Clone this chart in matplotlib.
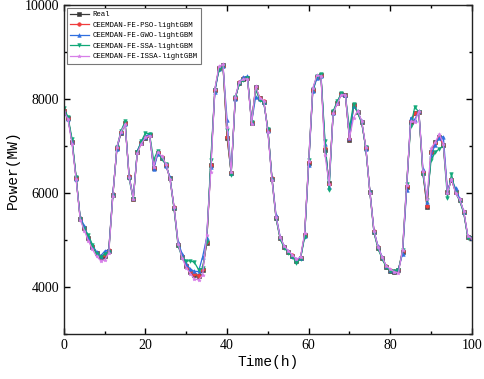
import matplotlib
matplotlib.use("Agg")
import matplotlib.pyplot as plt
from matplotlib.ticker import MultipleLocator

hours = list(range(101))

real = [7750,7600,7080,6320,5450,5250,5040,4850,4720,4640,
        4660,4770,5960,6960,7280,7490,6340,5870,6870,7060,
        7170,7230,6530,6850,6750,6600,6320,5680,4900,4640,
        4450,4320,4260,4230,4360,4940,6600,8190,8660,8720,
        7170,6430,8020,8340,8430,8450,7490,8250,8020,7940,
        7340,6300,5470,5040,4850,4740,4660,4560,4620,5100,
        6640,8190,8470,8510,6920,6210,7720,7920,8100,8080,
        7130,7870,7720,7510,6960,6020,5170,4830,4620,4430,
        4340,4320,4360,4750,6130,7510,7700,7720,6430,5700,
        6870,7080,7190,7020,6020,6280,6020,5850,5590,5060,
        5040]

pso = [7760,7590,7090,6310,5460,5260,5050,4860,4730,4650,
       4670,4780,5970,6950,7290,7480,6350,5880,6880,7070,
       7180,7240,6540,6860,6760,6590,6310,5690,4910,4650,
       4460,4330,4270,4240,4380,4950,6590,8180,8650,8710,
       7200,6420,8010,8350,8440,8450,7500,8240,8010,7950,
       7330,6310,5480,5050,4850,4750,4670,4570,4620,5110,
       6650,8180,8460,8500,6950,6200,7710,7920,8100,8080,
       7150,7860,7720,7500,6950,6030,5180,4840,4620,4440,
       4350,4330,4360,4760,6140,7520,7690,7720,6440,5720,
       6880,7070,7190,7030,6030,6290,6030,5850,5600,5070,
       5040]

gwo = [7720,7580,7100,6300,5480,5300,5060,4880,4750,4660,
       4760,4790,5990,6930,7300,7470,6360,5890,6900,7090,
       7200,7260,6500,6830,6770,6580,6330,5700,4950,4700,
       4480,4380,4330,4330,4640,5050,6560,8150,8630,8700,
       7550,6420,8000,8360,8460,8480,7500,8040,7990,7930,
       7320,6320,5520,5070,4860,4760,4660,4590,4610,5090,
       6600,8160,8440,8490,7050,6120,7700,7930,8110,8090,
       7170,7850,7740,7520,6940,6040,5200,4860,4640,4440,
       4350,4330,4380,4700,6060,7600,7560,7740,6500,5800,
       6800,7030,7170,7200,6050,6290,6100,5880,5600,5080,
       5050]

ssa = [7800,7620,7150,6340,5440,5240,5100,4900,4700,4630,
       4700,4740,5930,6980,7320,7520,6300,5860,6880,7100,
       7280,7250,6700,6900,6720,6620,6300,5650,4870,4620,
       4550,4560,4520,4370,4400,4960,6700,8200,8620,8690,
       7330,6390,8040,8320,8400,8440,7510,8200,7980,7920,
       7360,6280,5450,5020,4830,4730,4640,4510,4600,5060,
       6700,8210,8480,8530,7100,6060,7740,7950,8120,8070,
       7380,7900,7700,7480,6970,6000,5150,4810,4600,4420,
       4330,4330,4350,4790,6200,7420,7830,7720,6380,5850,
       6700,6860,6940,7000,5900,6400,6000,5830,5570,5050,
       5040]

issa = [7740,7570,7040,6290,5430,5200,4980,4800,4650,4560,
        4570,4720,5940,6980,7300,7460,6330,5880,6850,7050,
        7180,7220,6560,6870,6780,6620,6290,5700,4920,4610,
        4410,4280,4170,4150,4250,5100,6450,8220,8690,8740,
        7400,6440,8050,8370,8420,8430,7470,8270,8030,7960,
        7300,6270,5490,5060,4870,4770,4680,4590,4640,5140,
        6680,8230,8500,8490,6800,6190,7700,7900,8090,8090,
        7170,7600,7750,7530,6980,6000,5190,4850,4630,4450,
        4380,4320,4300,4790,6170,7520,7510,7740,6470,5880,
        6950,7080,7250,7050,6000,6300,5990,5860,5610,5090,
        5030]

labels = ["Real", "CEEMDAN-FE-PSO-lightGBM", "CEEMDAN-FE-GWO-lightGBM",
          "CEEMDAN-FE-SSA-lightGBM", "CEEMDAN-FE-ISSA-lightGBM"]
series = [real, pso, gwo, ssa, issa]
colors = ["#3a3a3a", "#f03c3c", "#2f6fe0", "#10a878", "#d77ee8"]
markers = ["s", "o", "^", "v", "*"]

mono = "Liberation Mono"
serif = "Liberation Serif"

fig = plt.figure(figsize=(4.84, 3.79), dpi=100)
ax = fig.add_axes([0.132, 0.119, 0.843, 0.868])

for ys, lab, c, m in zip(series, labels, colors, markers):
    ax.plot(hours, ys, color=c, marker=m, markersize=2.6, linewidth=0.9,
            label=lab, markeredgewidth=0.4)

ax.set_xlim(0, 100)
ax.set_ylim(3000, 10000)
ax.xaxis.set_major_locator(MultipleLocator(20))
ax.xaxis.set_minor_locator(MultipleLocator(10))
ax.yaxis.set_major_locator(MultipleLocator(2000))
ax.yaxis.set_minor_locator(MultipleLocator(1000))
ax.tick_params(which="both", direction="in", top=True, right=True, width=1.0)
ax.tick_params(which="major", length=4, labelsize=10)
ax.tick_params(which="minor", length=2.5)
for lab in ax.get_xticklabels() + ax.get_yticklabels():
    lab.set_fontfamily(serif)
for s in ax.spines.values():
    s.set_linewidth(1.0)
    s.set_color("#222222")

ax.set_xlabel("Time(h)", fontfamily=mono, fontsize=10.5, labelpad=2)
ax.set_ylabel("Power(MW)", fontfamily=mono, fontsize=10.5, labelpad=3)

leg = ax.legend(loc="upper left", prop={"family": mono, "size": 5.3},
                fancybox=False, edgecolor="#777777", framealpha=1,
                handlelength=2.5, borderpad=0.45, labelspacing=0.45,
                handletextpad=0.5, borderaxespad=0.4)
leg.get_frame().set_linewidth(0.8)

fig.savefig("out.png", dpi=100)
